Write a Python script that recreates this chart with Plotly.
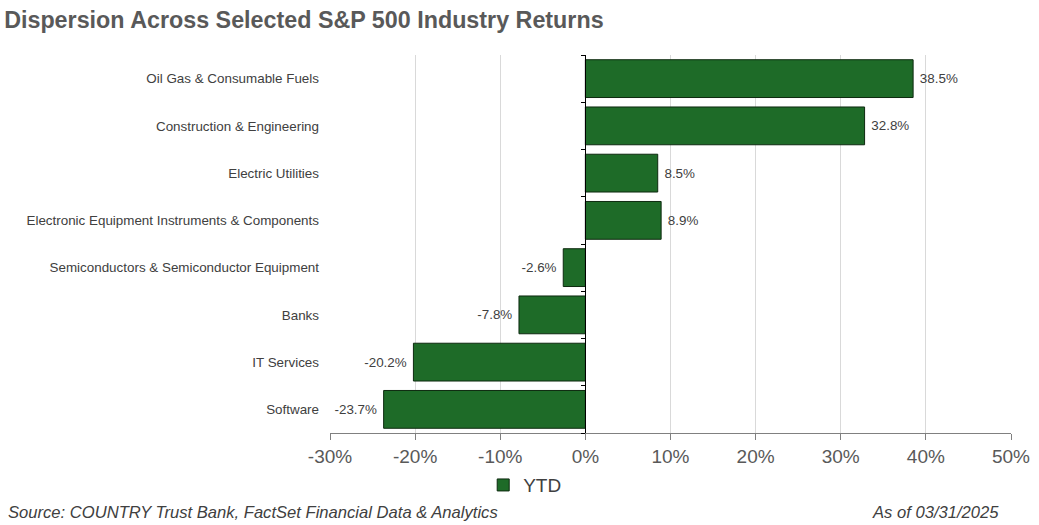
import plotly.graph_objects as go

categories = ["Oil Gas & Consumable Fuels", "Construction & Engineering", "Electric Utilities",
              "Electronic Equipment Instruments & Components", "Semiconductors & Semiconductor Equipment",
              "Banks", "IT Services", "Software"]
ytd = [38.5, 32.8, 8.5, 8.9, -2.6, -7.8, -20.2, -23.7]
tick_vals = [-30, -20, -10, 0, 10, 20, 30, 40, 50]
tick_text = ["-30%", "-20%", "-10%", "0%", "10%", "20%", "30%", "40%", "50%"]

FONT = "Liberation Sans, Arial, sans-serif"
GREEN = "#1e6b28"

labels = [(" " + f"{v:.1f}%") if v >= 0 else (f"{v:.1f}%" + " ") for v in ytd]

fig = go.Figure()
fig.add_trace(go.Bar(
    x=ytd, y=categories, orientation="h", name="YTD",
    marker=dict(color=GREEN, line=dict(color="#0d2a0f", width=1)),
    text=labels, textposition="outside",
    textfont=dict(size=13.4, color="#404040", family=FONT),
    cliponaxis=False,
))
# helper invisible trace for zero-line axis with boundary ticks
fig.add_trace(go.Scatter(
    x=[0] * len(categories), y=categories, yaxis="y2", mode="markers",
    marker=dict(opacity=0), showlegend=False, hoverinfo="skip",
))

fig.update_layout(
    width=1039, height=525,
    margin=dict(l=330, r=28, t=55, b=92, autoexpand=False),
    paper_bgcolor="white", plot_bgcolor="white",
    font=dict(family=FONT, color="#595959"),
    bargap=0.2,
    title=dict(text="<b>Dispersion Across Selected S&P 500 Industry Returns</b>",
               x=0.004, xanchor="left", y=0.962, yanchor="middle",
               font=dict(size=23.3, color="#595959", family=FONT)),
    xaxis=dict(range=[-30, 50], tickvals=tick_vals, ticktext=tick_text,
               tickfont=dict(size=19, color="#595959"),
               showgrid=True, gridcolor="#d9d9d9", gridwidth=1,
               zeroline=False, showline=True, linecolor="#808080", linewidth=1,
               ticks="outside", ticklen=6, tickcolor="#808080", automargin=False),
    yaxis=dict(categoryorder="array", categoryarray=categories[::-1],
               tickfont=dict(size=13.4, color="#404040"), showgrid=False,
               showline=False, ticks="", ticklabelstandoff=10, automargin=False),
    yaxis2=dict(overlaying="y", matches="y", anchor="free", position=0.375,
                showticklabels=False, showgrid=False, showline=True,
                linecolor="#000000", linewidth=1, ticks="outside", tickson="boundaries",
                ticklen=4, tickcolor="#000000"),
    showlegend=True,
    legend=dict(orientation="h", xref="container", yref="container",
                x=0.505, xanchor="center", y=0.076, yanchor="middle",
                font=dict(size=19, color="#404040"), itemwidth=30),
)

fig.add_annotation(text="<i>Source: COUNTRY Trust Bank, FactSet Financial Data & Analytics</i>",
                   xref="paper", yref="paper", x=-324/681, y=-79/378, xanchor="left", yanchor="middle",
                   showarrow=False, font=dict(size=16.6, color="#404040", family=FONT))
fig.add_annotation(text="<i>As of 03/31/2025</i>",
                   xref="paper", yref="paper", x=1 - 10/681, y=-79/378, xanchor="right", yanchor="middle",
                   showarrow=False, font=dict(size=16.6, color="#404040", family=FONT))

fig.write_html("out.html")
